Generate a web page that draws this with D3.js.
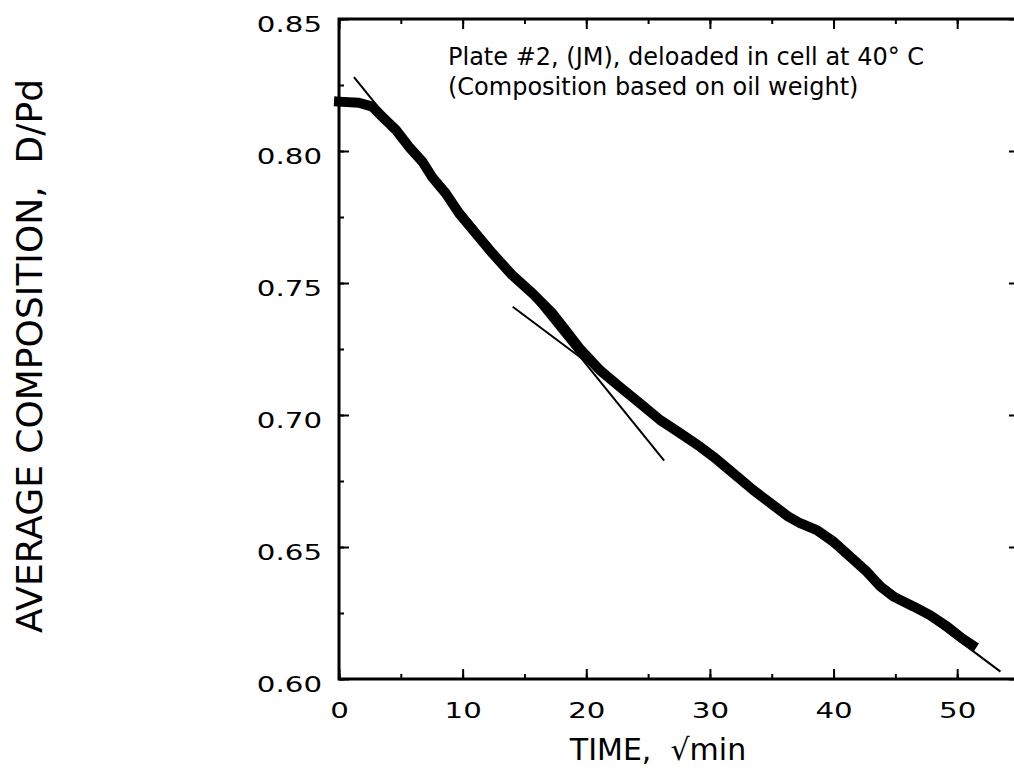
<!DOCTYPE html>
<html>
<head>
<meta charset="utf-8">
<script src="https://cdn.jsdelivr.net/npm/d3@7"></script>
<style>
  body { margin: 0; background: #fff; }
  svg text { font-family: "DejaVu Sans", Verdana, sans-serif; fill: #000; white-space: pre; }
</style>
</head>
<body>
<svg id="chart" width="1014" height="772"></svg>
<script>
// sqrt(time) in sqrt(min)
var timeVals = [0, 1.6, 2.7, 3.5, 4.6, 5.66, 6.74, 7.55, 8.63, 9.71, 11.06, 12.4, 14.0, 15.64, 17.26,
                18.6, 19.5, 21.1, 22.7, 24.35, 25.97, 27.6, 29.2, 30.28, 31.9, 33.5, 35.1, 36.35,
                37.3, 38.65, 40.0, 41.35, 42.7, 43.8, 44.85, 46.5, 47.8, 49.2, 50.4, 51.2];
// average composition D/Pd
var compVals = [0.8187, 0.8183, 0.8168, 0.813, 0.808, 0.8016, 0.796, 0.790, 0.784, 0.7764, 0.7688,
                0.7613, 0.753, 0.7461, 0.7385, 0.7305, 0.7250, 0.717, 0.7107, 0.7044, 0.6981,
                0.6931, 0.688, 0.6842, 0.6779, 0.6716, 0.6659, 0.6615, 0.659, 0.6564, 0.652,
                0.6463, 0.6406, 0.635, 0.6312, 0.6274, 0.6242, 0.6198, 0.6154, 0.6129];

// the two straight fits drawn over the data
var fitEarly = [[1.21, 0.828], [26.3, 0.6827]];
var fitLate = [[14.05, 0.741], [53.5, 0.6028]];

var xTicks = [0, 10, 20, 30, 40, 50];
var yTicks = [0.60, 0.65, 0.70, 0.75, 0.80, 0.85];
var noteLines = ["Plate #2, (JM), deloaded in cell at 40\u00b0 C",
                 "(Composition based on oil weight)"];

var marginLeft = 339, marginTop = 19;
var width = 680, height = 660;

var svg = d3.select("#chart");
var g = svg.append("g").attr("transform", "translate(" + marginLeft + "," + marginTop + ")");

var xScale = d3.scaleLinear().domain([0, 55]).range([0, width]);
var yScale = d3.scaleLinear().domain([0.60, 0.85]).range([height, 0]);

var minorX = d3.range(0, 56, 5);
var minorY = d3.range(0.60, 0.851, 0.025);

//minor ticks first, then the major ones with labels
var drawAxis = function(axisFn, scale, vals, size, pos, fmt)
{
    var a = g.append("g")
        .attr("transform", pos)
        .call(axisFn(scale).tickValues(vals).tickSize(size).tickFormat(fmt ? fmt : ""));
    a.select(".domain").remove();
    a.selectAll(".tick line").attr("stroke", "#000").attr("stroke-width", 2);
    return a;
}

drawAxis(d3.axisBottom, xScale, minorX, -5, "translate(0," + height + ")");
drawAxis(d3.axisTop, xScale, minorX, -5, "translate(0,0)");
drawAxis(d3.axisLeft, yScale, minorY, -5, "translate(0,0)");
drawAxis(d3.axisRight, yScale, minorY, -5, "translate(" + width + ",0)");
drawAxis(d3.axisTop, xScale, xTicks, -10, "translate(0,0)");
drawAxis(d3.axisRight, yScale, yTicks, -10, "translate(" + width + ",0)");

// tick labels in the picture are wide glyphs, so stretch them sideways
var xAxis = drawAxis(d3.axisBottom, xScale, xTicks, -10, "translate(0," + height + ")", d3.format("d"));
xAxis.selectAll(".tick text")
    .attr("y", 0)
    .attr("dy", "0.71em")
    .attr("transform", "translate(0,23) scale(1.33,1)")
    .style("font-size", "22px");

var yAxis = drawAxis(d3.axisLeft, yScale, yTicks, -10, "translate(0,0)", d3.format(".2f"));
yAxis.selectAll(".tick text")
    .attr("x", 0)
    .attr("transform", "translate(-17,5) scale(1.33,1)")
    .style("font-size", "22px");

// frame
g.append("rect")
    .attr("x", 0).attr("y", 0)
    .attr("width", width).attr("height", height)
    .attr("fill", "none")
    .attr("stroke", "#000")
    .attr("stroke-width", 3);

// the data band
var pts = timeVals.map(function(t, i) { return [t, compVals[i]]; });
var line = d3.line()
    .x(function(d) { return xScale(d[0]); })
    .y(function(d) { return yScale(d[1]); });

g.append("path")
    .datum(pts)
    .attr("d", line)
    .attr("fill", "none")
    .attr("stroke", "#000")
    .attr("stroke-width", 10)
    .attr("stroke-linejoin", "round")
    .attr("stroke-linecap", "square");

[fitEarly, fitLate].forEach(function(f)
{
    g.append("path")
        .datum(f)
        .attr("d", line)
        .attr("fill", "none")
        .attr("stroke", "#000")
        .attr("stroke-width", 2);
});

g.selectAll(".note")
    .data(noteLines)
    .enter()
    .append("text")
    .attr("class", "note")
    .attr("x", 109)
    .attr("y", function(d, i) { return 46 + i * 30; })
    .style("font-size", "24px")
    .text(function(d) { return d; });

svg.append("text")
    .attr("x", 658)
    .attr("y", 760)
    .attr("text-anchor", "middle")
    .style("font-size", "30px")
    .text("TIME,  \u221amin");

svg.append("text")
    .attr("transform", "translate(42,356) rotate(-90)")
    .attr("text-anchor", "middle")
    .style("font-size", "36px")
    .text("AVERAGE COMPOSITION,  D/Pd");
</script>
</body>
</html>
